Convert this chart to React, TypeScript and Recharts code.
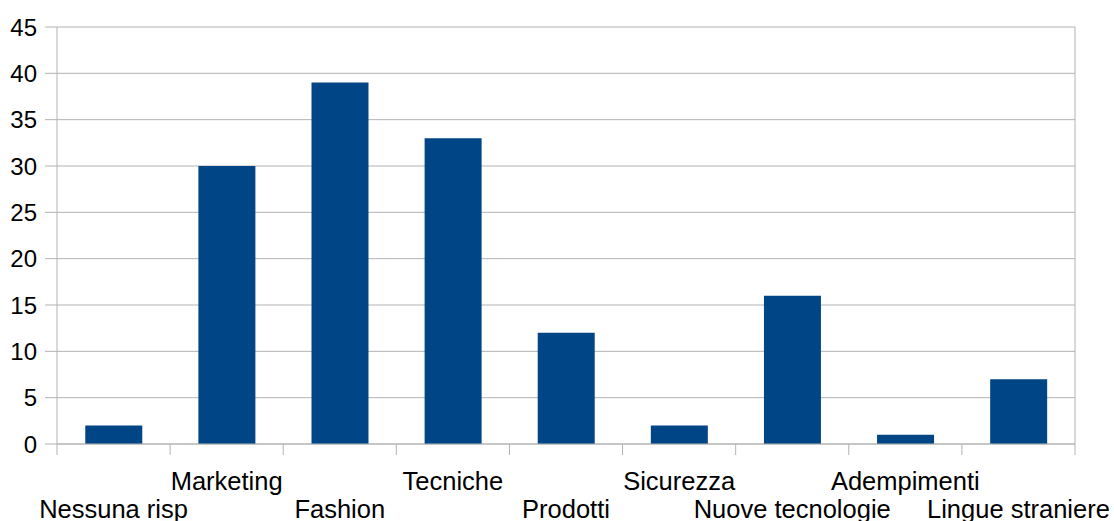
import React from 'react';
import { BarChart, Bar, XAxis, YAxis, CartesianGrid } from 'recharts';

const categories = ['Nessuna risp', 'Marketing', 'Fashion', 'Tecniche', 'Prodotti', 'Sicurezza', 'Nuove tecnologie', 'Adempimenti', 'Lingue straniere'];
const values = [2, 30, 39, 33, 12, 2, 16, 1, 7];
const yTicks = [0, 5, 10, 15, 20, 25, 30, 35, 40, 45];

const data = categories.map((c, i) => ({ name: c, value: values[i] }));

const GRID = '#b3b3b3';
const FONT = '"Liberation Sans", Arial, sans-serif';

const XTick = (props: any) => {
  const { x, y, payload, index } = props;
  const off = payload && typeof payload.offset === 'number' ? payload.offset : 0;
  const idx = typeof index === 'number' ? index : (payload?.index ?? 0);
  const isLast = idx === categories.length - 1;
  const upper = idx % 2 === 1;
  return (
    <g>
      <line x1={x - off} x2={x - off} y1={y - 11} y2={y} stroke={GRID} strokeWidth={1} />
      {isLast && <line x1={x + off} x2={x + off} y1={y - 11} y2={y} stroke={GRID} strokeWidth={1} />}
      <text x={x} y={upper ? y + 35 : y + 63} textAnchor="middle" fontSize={25.5} fontFamily={FONT} fill="#000">
        {payload.value}
      </text>
    </g>
  );
};

export default function App() {
  return (
    <div style={{ position: 'absolute', left: 0, top: 0, background: '#fff' }}>
      <BarChart width={1114} height={521} data={data} margin={{ top: 27, right: 0, bottom: 0, left: 0 }} barCategoryGap="25%">
        <CartesianGrid yAxisId="l" vertical={false} stroke={GRID} />
        <XAxis
          dataKey="name"
          height={77}
          interval={0}
          tickSize={11}
          tickMargin={0}
          tickLine={false}
          axisLine={{ stroke: GRID }}
          tick={<XTick />}
        />
        <YAxis
          yAxisId="l"
          width={57}
          domain={[0, 45]}
          ticks={yTicks}
          interval={0}
          tickSize={12}
          tickMargin={8}
          axisLine={{ stroke: GRID }}
          tickLine={{ stroke: GRID }}
          tick={{ fontSize: 24, fontFamily: FONT, fill: '#000' }}
        />
        <YAxis
          yAxisId="r"
          orientation="right"
          width={39}
          domain={[0, 45]}
          tick={false}
          tickLine={false}
          axisLine={{ stroke: GRID }}
        />
        <Bar yAxisId="l" dataKey="value" fill="#004586" isAnimationActive={false} />
      </BarChart>
    </div>
  );
}
